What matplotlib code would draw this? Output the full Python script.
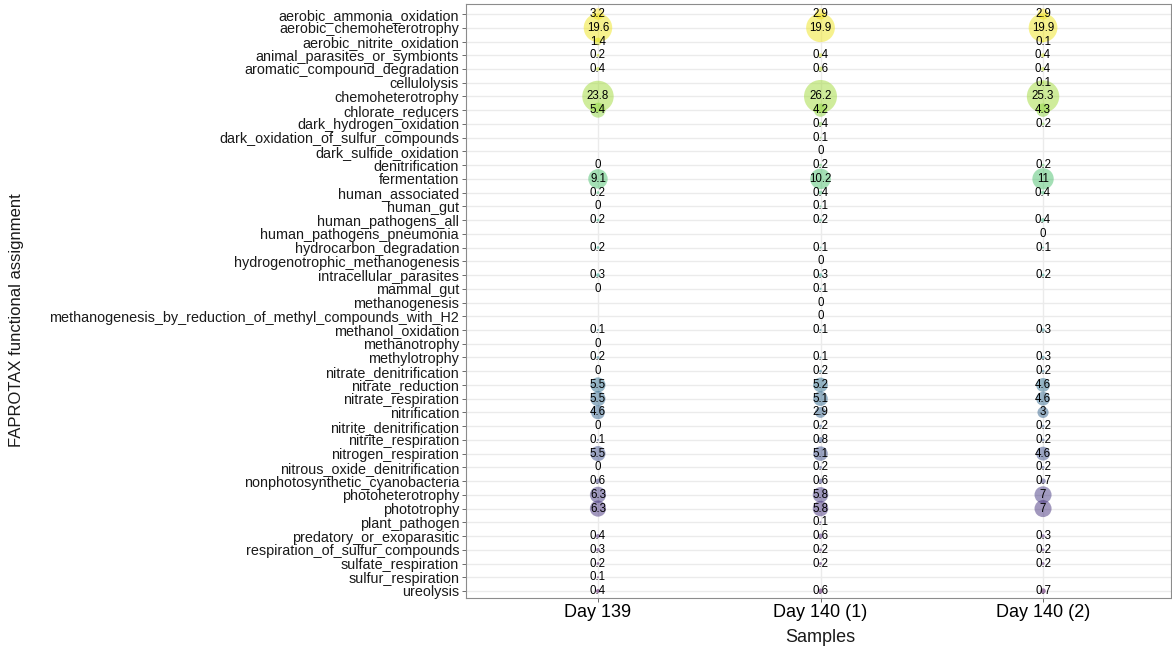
import matplotlib
matplotlib.use("Agg")
import matplotlib.pyplot as plt
import numpy as np

plt.rcParams["font.family"] = ["Liberation Sans", "DejaVu Sans"]

samples = ["Day 139", "Day 140 (1)", "Day 140 (2)"]

functions = [
    "aerobic_ammonia_oxidation", "aerobic_chemoheterotrophy", "aerobic_nitrite_oxidation",
    "animal_parasites_or_symbionts", "aromatic_compound_degradation", "cellulolysis",
    "chemoheterotrophy", "chlorate_reducers", "dark_hydrogen_oxidation",
    "dark_oxidation_of_sulfur_compounds", "dark_sulfide_oxidation", "denitrification",
    "fermentation", "human_associated", "human_gut", "human_pathogens_all",
    "human_pathogens_pneumonia", "hydrocarbon_degradation",
    "hydrogenotrophic_methanogenesis", "intracellular_parasites", "mammal_gut",
    "methanogenesis", "methanogenesis_by_reduction_of_methyl_compounds_with_H2",
    "methanol_oxidation", "methanotrophy", "methylotrophy", "nitrate_denitrification",
    "nitrate_reduction", "nitrate_respiration", "nitrification", "nitrite_denitrification",
    "nitrite_respiration", "nitrogen_respiration", "nitrous_oxide_denitrification",
    "nonphotosynthetic_cyanobacteria", "photoheterotrophy", "phototrophy",
    "plant_pathogen", "predatory_or_exoparasitic", "respiration_of_sulfur_compounds",
    "sulfate_respiration", "sulfur_respiration", "ureolysis",
]

nan = np.nan
# relative abundance (%) per function, one list per sample; nan = not detected
day139 = [3.2, 19.6, 1.4, 0.2, 0.4, nan, 23.8, 5.4, nan, nan, nan, 0, 9.1, 0.2, 0,
          0.2, nan, 0.2, nan, 0.3, 0, nan, nan, 0.1, 0, 0.2, 0, 5.5, 5.5, 4.6, 0,
          0.1, 5.5, 0, 0.6, 6.3, 6.3, nan, 0.4, 0.3, 0.2, 0.1, 0.4]
day140_1 = [2.9, 19.9, nan, 0.4, 0.6, nan, 26.2, 4.2, 0.4, 0.1, 0, 0.2, 10.2, 0.4, 0.1,
            0.2, nan, 0.1, 0, 0.3, 0.1, 0, 0, 0.1, nan, 0.1, 0.2, 5.2, 5.1, 2.9, 0.2,
            0.8, 5.1, 0.2, 0.6, 5.8, 5.8, 0.1, 0.6, 0.2, 0.2, nan, 0.6]
day140_2 = [2.9, 19.9, 0.1, 0.4, 0.4, 0.1, 25.3, 4.3, 0.2, nan, nan, 0.2, 11, 0.4, nan,
            0.4, 0, 0.1, nan, 0.2, nan, nan, nan, 0.3, nan, 0.3, 0.2, 4.6, 4.6, 3, 0.2,
            0.2, 4.6, 0.2, 0.7, 7, 7, nan, 0.3, 0.2, 0.2, nan, 0.7]

values = np.array([day139, day140_1, day140_2])

fig = plt.figure(figsize=(11.72, 6.5), dpi=100)
ax = fig.add_axes([466 / 1172, 1 - 598 / 650, (1171 - 466) / 1172, (598 - 4) / 650])

n = len(functions)
ypos = np.arange(n)
colors = plt.cm.viridis(1 - ypos / (n - 1))

for j, sample in enumerate(samples):
    v = values[j]
    ok = ~np.isnan(v)
    # bubble area proportional to abundance
    ax.scatter(np.full(ok.sum(), j + 1), ypos[ok], s=21.5 * v[ok], c=colors[ok],
               alpha=0.5, linewidths=0, zorder=3)
    for y in ypos[ok]:
        ax.text(j + 1, y, f"{v[y]:g}", ha="center", va="center", fontsize=8.3,
                color="black", zorder=4)

ax.set_xlim(0.407, 3.575)
ax.set_ylim(n - 1 + 0.51, -0.73)
ax.set_xticks([1, 2, 3])
ax.set_xticklabels(samples, fontsize=13)
ax.set_yticks(ypos)
ax.set_yticklabels(functions, fontsize=10.4, color="#1a1a1a")
ax.tick_params(axis="both", length=3, width=0.6, color="#555555", pad=2)
ax.tick_params(axis="x", pad=1)

ax.grid(True, color="#ebebeb", linewidth=1.0, zorder=0)
ax.set_axisbelow(True)
for sp in ax.spines.values():
    sp.set_color("#8c8c8c")
    sp.set_linewidth(0.8)

fig.text(820 / 1172, 1 - 637 / 650, "Samples", ha="center", va="center", fontsize=13,
         color="#1a1a1a")
fig.text(17 / 1172, 1 - 320 / 650, "FAPROTAX functional assignment", rotation=90,
         ha="center", va="center", fontsize=12, color="#1a1a1a")

fig.savefig("out.png", dpi=100)
